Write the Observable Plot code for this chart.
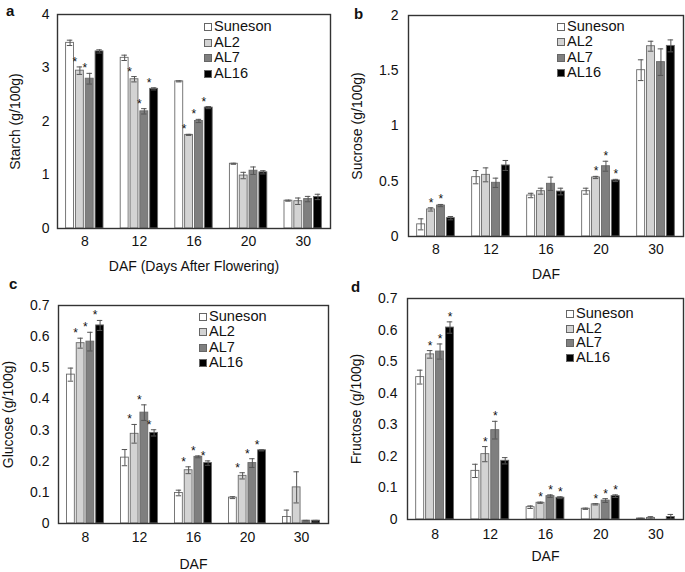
<!DOCTYPE html>
<html><head><meta charset="utf-8">
<script src="https://cdn.jsdelivr.net/npm/d3@7"></script>
<script src="https://cdn.jsdelivr.net/npm/@observablehq/plot@0.6"></script>
<style>
body{margin:0;background:#fff;font-family:"Liberation Sans",Arial,sans-serif;}
#wrap{position:relative;width:685px;height:572px;overflow:hidden;background:#fff;}
.panel{position:absolute;}
.tag{position:absolute;font-weight:bold;font-size:15px;line-height:1;color:#111;}
.legend{position:absolute;font-size:14.6px;line-height:15.3px;color:#111;}
.legend .row{white-space:nowrap;}
.legend .sw{display:inline-block;width:6px;height:6px;border:1px solid #666;margin-right:2px;vertical-align:0px;}
</style></head>
<body><div id="wrap"></div>
<script>
const dafLabels = ["8", "12", "16", "20", "30"];
const seriesNames = ["Suneson", "AL2", "AL7", "AL16"];
const seriesFills = ["#ffffff", "#d3d3d3", "#7f7f7f", "#000000"];

// Starch (g/100g): rows = series, columns = DAF
const starchMean = [
  [3.47, 3.19, 2.75, 1.21, 0.52],
  [2.95, 2.79, 1.75, 0.99, 0.51],
  [2.80, 2.19, 2.01, 1.08, 0.55],
  [3.31, 2.61, 2.26, 1.05, 0.59]
];
const starchErr = [
  [0.05, 0.05, 0.01, 0.01, 0.01],
  [0.07, 0.05, 0.01, 0.06, 0.06],
  [0.10, 0.05, 0.03, 0.07, 0.05],
  [0.03, 0.02, 0.02, 0.03, 0.05]
];
const starchStars = [
  [0, 0, 0, 0, 0],
  [1, 1, 1, 0, 0],
  [1, 1, 1, 0, 0],
  [0, 1, 1, 0, 0]
];

// Sucrose (g/100g)
const sucroseMean = [
  [0.11, 0.537, 0.371, 0.41, 1.505],
  [0.245, 0.558, 0.41, 0.534, 1.722],
  [0.28, 0.486, 0.477, 0.636, 1.578],
  [0.166, 0.643, 0.407, 0.507, 1.725]
];
const sucroseErr = [
  [0.05, 0.06, 0.02, 0.027, 0.094],
  [0.015, 0.063, 0.027, 0.01, 0.045],
  [0.01, 0.042, 0.06, 0.045, 0.12],
  [0.015, 0.045, 0.03, 0.01, 0.054]
];
const sucroseStars = [
  [0, 0, 0, 0, 0],
  [1, 0, 0, 1, 0],
  [1, 0, 0, 1, 0],
  [0, 0, 0, 1, 0]
];

// Glucose (g/100g)
const glucoseMean = [
  [0.478, 0.2115, 0.098, 0.083, 0.021],
  [0.579, 0.288, 0.171, 0.153, 0.116],
  [0.584, 0.356, 0.214, 0.194, 0.009],
  [0.636, 0.291, 0.194, 0.235, 0.009]
];
const glucoseErr = [
  [0.021, 0.026, 0.009, 0.003, 0.022],
  [0.016, 0.03, 0.011, 0.01, 0.05],
  [0.03, 0.025, 0.003, 0.014, 0.001],
  [0.016, 0.01, 0.007, 0.002, 0.001]
];
const glucoseStars = [
  [0, 0, 0, 0, 0],
  [1, 1, 1, 1, 0],
  [1, 1, 1, 1, 0],
  [1, 1, 1, 1, 0]
];

// Fructose (g/100g)
const fructoseMean = [
  [0.451, 0.154, 0.039, 0.034, 0.003],
  [0.523, 0.207, 0.053, 0.048, 0.005],
  [0.532, 0.283, 0.074, 0.06, 0.0],
  [0.608, 0.186, 0.069, 0.074, 0.008]
];
const fructoseErr = [
  [0.022, 0.021, 0.004, 0.002, 0.001],
  [0.012, 0.024, 0.002, 0.002, 0.004],
  [0.024, 0.028, 0.004, 0.006, 0.0],
  [0.018, 0.01, 0.003, 0.004, 0.008]
];
const fructoseStars = [
  [0, 0, 0, 0, 0],
  [1, 1, 1, 1, 0],
  [1, 1, 1, 1, 0],
  [1, 0, 1, 1, 0]
];

const SLOT = 0.18, BAR = 0.145, CAP = 0.05;

function buildRows(mean, err, stars) {
  const rows = [];
  dafLabels.forEach((lab, i) => {
    seriesNames.forEach((s, j) => {
      const c = i + (j - 1.5) * SLOT;
      rows.push({g: i, s, c, x1: c - BAR / 2, x2: c + BAR / 2,
        v: mean[j][i], e: err[j][i], star: stars[j][i] === 1, fill: seriesFills[j]});
    });
  });
  return rows;
}

const wrap = document.getElementById("wrap");

function makePanel(cfg) {
  const rows = buildRows(cfg.mean, cfg.err, cfg.stars);
  const chart = Plot.plot({
    width: cfg.w, height: cfg.h,
    marginLeft: cfg.ml, marginRight: cfg.mr, marginTop: cfg.mt, marginBottom: cfg.mb,
    style: {fontFamily: '"Liberation Sans", Arial, sans-serif', fontSize: "14px", color: "#111", background: "transparent", overflow: "visible"},
    x: {domain: [-0.5, 4.5], ticks: d3.range(dafLabels.length), tickFormat: i => dafLabels[i],
        tickSize: 0, tickPadding: cfg.xpad, label: cfg.xlabel, labelAnchor: "center", labelOffset: cfg.xlo, labelArrow: "none"},
    y: {domain: [0, cfg.ymax], ticks: cfg.yticks, tickFormat: d => String(+d.toFixed(2)),
        tickSize: 0, tickPadding: cfg.ypad, label: cfg.ylabel, labelAnchor: "center", labelOffset: cfg.ylo, labelArrow: "none"},
    color: {type: "identity"},
    marks: [
      Plot.rect(rows, {x1: "x1", x2: "x2", y1: () => 0, y2: "v", fill: "fill", stroke: "#6a6a6a", strokeWidth: 0.9}),
      Plot.ruleX(rows, {x: "c", y1: d => Math.max(0, d.v - d.e), y2: d => d.v + d.e, stroke: "#555", strokeWidth: 1}),
      Plot.ruleY(rows, {y: d => d.v + d.e, x1: d => d.c - CAP, x2: d => d.c + CAP, stroke: "#555", strokeWidth: 1}),
      Plot.ruleY(rows, {y: d => Math.max(0, d.v - d.e), x1: d => d.c - CAP, x2: d => d.c + CAP, stroke: "#555", strokeWidth: 1}),
      Plot.text(rows.filter(d => d.star), {x: "c", y: d => d.v + d.e, text: () => "*", lineAnchor: "bottom",
        dx: cfg.sdx, dy: cfg.sdy, fontSize: 12, fill: "#111"}),
      Plot.frame({stroke: "#333", strokeWidth: 1.4})
    ]
  });
  const box = document.createElement("div");
  box.className = "panel";
  box.style.left = cfg.x + "px";
  box.style.top = cfg.y + "px";
  box.appendChild(chart);
  wrap.appendChild(box);

  const tag = document.createElement("div");
  tag.className = "tag";
  tag.textContent = cfg.tag;
  tag.style.left = cfg.tagX + "px";
  tag.style.top = cfg.tagY + "px";
  wrap.appendChild(tag);

  const leg = document.createElement("div");
  leg.className = "legend";
  leg.style.left = cfg.legX + "px";
  leg.style.top = cfg.legY + "px";
  leg.style.lineHeight = cfg.legLH + "px";
  seriesNames.forEach((s, j) => {
    const r = document.createElement("div");
    r.className = "row";
    const sw = document.createElement("span");
    sw.className = "sw";
    sw.style.background = seriesFills[j];
    r.appendChild(sw);
    r.appendChild(document.createTextNode(s));
    leg.appendChild(r);
  });
  wrap.appendChild(leg);
}

makePanel({tag: "a", tagX: 6, tagY: 3, x: 0, y: 0, w: 340, h: 280, ml: 57, mr: 10, mt: 14, mb: 52,
  mean: starchMean, err: starchErr, stars: starchStars, ymax: 4, yticks: [0, 1, 2, 3, 4],
  xlabel: "DAF (Days After Flowering)", ylabel: "Starch (g/100g)", xpad: 8, ypad: 8, xlo: 42, ylo: 47,
  sdx: -5, sdy: -1, legX: 204, legY: 19, legLH: 15.5});

makePanel({tag: "b", tagX: 354, tagY: 6, x: 340, y: 0, w: 345, h: 280, ml: 68, mr: 2, mt: 15, mb: 44,
  mean: sucroseMean, err: sucroseErr, stars: sucroseStars, ymax: 2, yticks: [0, 0.5, 1, 1.5, 2],
  xlabel: "DAF", ylabel: "Sucrose (g/100g)", xpad: 8, ypad: 10, xlo: 42, ylo: 56,
  sdx: 0, sdy: -1, legX: 557, legY: 19, legLH: 15.3});

makePanel({tag: "c", tagX: 9, tagY: 276, x: 0, y: 280, w: 340, h: 292, ml: 58, mr: 12, mt: 25, mb: 49,
  mean: glucoseMean, err: glucoseErr, stars: glucoseStars, ymax: 0.7, yticks: d3.range(0, 0.71, 0.1),
  xlabel: "DAF", ylabel: "Glucose (g/100g)", xpad: 9, ypad: 9, xlo: 45, ylo: 55,
  sdx: -5, sdy: -1, legX: 199, legY: 309, legLH: 15.3});

makePanel({tag: "d", tagX: 351, tagY: 279, x: 340, y: 280, w: 345, h: 292, ml: 67, mr: 2, mt: 18, mb: 53,
  mean: fructoseMean, err: fructoseErr, stars: fructoseStars, ymax: 0.7, yticks: d3.range(0, 0.71, 0.1),
  xlabel: "DAF", ylabel: "Fructose (g/100g)", xpad: 10, ypad: 10, xlo: 41, ylo: 56,
  sdx: 0, sdy: -1, legX: 566, legY: 306, legLH: 14.7});
</script>
</body></html>
